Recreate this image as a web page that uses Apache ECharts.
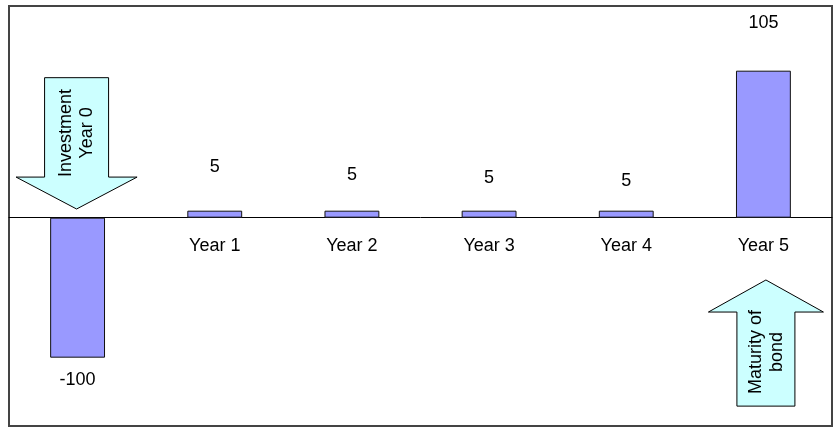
<!DOCTYPE html>
<html lang="en">
<head>
    <meta charset="UTF-8">
    <title>Bond cash flows</title>
    <script src="https://cdn.jsdelivr.net/npm/echarts@6/dist/echarts.min.js"></script>
    <style>
        html, body { margin: 0; padding: 0; background: #fff; }
        #chart { width: 834px; height: 428px; }
    </style>
</head>
<body>
    <div id="chart"></div>
    <script>
    // data
    var categories = ['Year 0', 'Year 1', 'Year 2', 'Year 3', 'Year 4', 'Year 5'];
    var cashFlows = [-100, 5, 5, 5, 5, 105];
    // labels were nudged by hand in the original, keep the extra shift per bar
    var labelShift = [8, -30, -22, -19, -16, -34];

    var FONT = 'Arial, "Liberation Sans", sans-serif';
    var Y_MIN = -148.8, Y_MAX = 151.2;
    var GRID_TOP = 6, GRID_BOTTOM = 2, H = 428;
    // category axis sits on the zero line, move it up from the grid bottom
    var zeroOffset = -(H - GRID_TOP - GRID_BOTTOM) * (0 - Y_MIN) / (Y_MAX - Y_MIN);

    var myChart = echarts.init(document.getElementById('chart'));

    var option = {
        animation: false,
        grid: {
            left: 9,
            right: 2,
            top: GRID_TOP,
            bottom: GRID_BOTTOM,
            containLabel: false,
            outerBoundsMode: 'none',
            show: true,
            borderColor: '#444',
            borderWidth: 2,
            backgroundColor: '#fff'
        },
        xAxis: {
            type: 'category',
            data: categories,
            position: 'bottom',
            offset: zeroOffset,
            axisLine: { onZero: false, lineStyle: { color: '#000', width: 1 } },
            axisTick: { show: false },
            axisLabel: {
                margin: 19,
                fontSize: 18,
                fontFamily: FONT,
                color: '#000',
                formatter: function (v, i) { return i === 0 ? '' : v; }
            },
            splitLine: { show: false }
        },
        yAxis: {
            type: 'value',
            min: Y_MIN,
            max: Y_MAX,
            show: false,
            splitLine: { show: false }
        },
        series: [{
            type: 'bar',
            barWidth: '40%',
            data: cashFlows.map(function (v, i) {
                return {
                    value: v,
                    label: { offset: [0, labelShift[i]] }
                };
            }),
            itemStyle: {
                color: '#9999FF',
                borderColor: '#111',
                borderWidth: 1
            },
            label: {
                show: true,
                position: 'outside',
                fontSize: 18,
                fontFamily: FONT,
                color: '#000'
            }
        }]
    };
    myChart.setOption(option);

    // callout arrows, anchored to the axes
    function px(cat, val) {
        return myChart.convertToPixel({ gridIndex: 0 }, [cat, val]);
    }

    function arrow(cat, dx, shaftEnd, headBase, tip, shaftHalf, headHalf) {
        var cx = px(cat, 0)[0] + dx;
        var ys = px(cat, shaftEnd)[1];
        var yb = px(cat, headBase)[1];
        var yt = px(cat, tip)[1];
        return {
            type: 'polygon',
            shape: {
                points: [
                    [cx - shaftHalf, ys], [cx + shaftHalf, ys],
                    [cx + shaftHalf, yb], [cx + headHalf, yb],
                    [cx, yt],
                    [cx - headHalf, yb], [cx - shaftHalf, yb]
                ]
            },
            style: { fill: '#CCFFFF', stroke: '#000', lineWidth: 1 },
            z: 10
        };
    }

    function note(cat, dx, val, txt) {
        var p = px(cat, val);
        return {
            type: 'text',
            x: p[0] + dx,
            y: p[1],
            rotation: Math.PI / 2,
            style: {
                text: txt,
                font: '18px ' + FONT,
                fill: '#000',
                align: 'center',
                verticalAlign: 'middle',
                lineHeight: 21
            },
            z: 11
        };
    }

    myChart.setOption({
        graphic: [
            arrow(0, -1, 100, 29, 6.2, 32, 60.5),
            note(0, -1, 60.5, 'Investment\nYear 0'),
            arrow(5, 2.5, -134.6, -67.4, -44.5, 29, 57.5),
            note(5, 3, -96, 'Maturity of\nbond')
        ]
    });
    </script>
</body>
</html>
